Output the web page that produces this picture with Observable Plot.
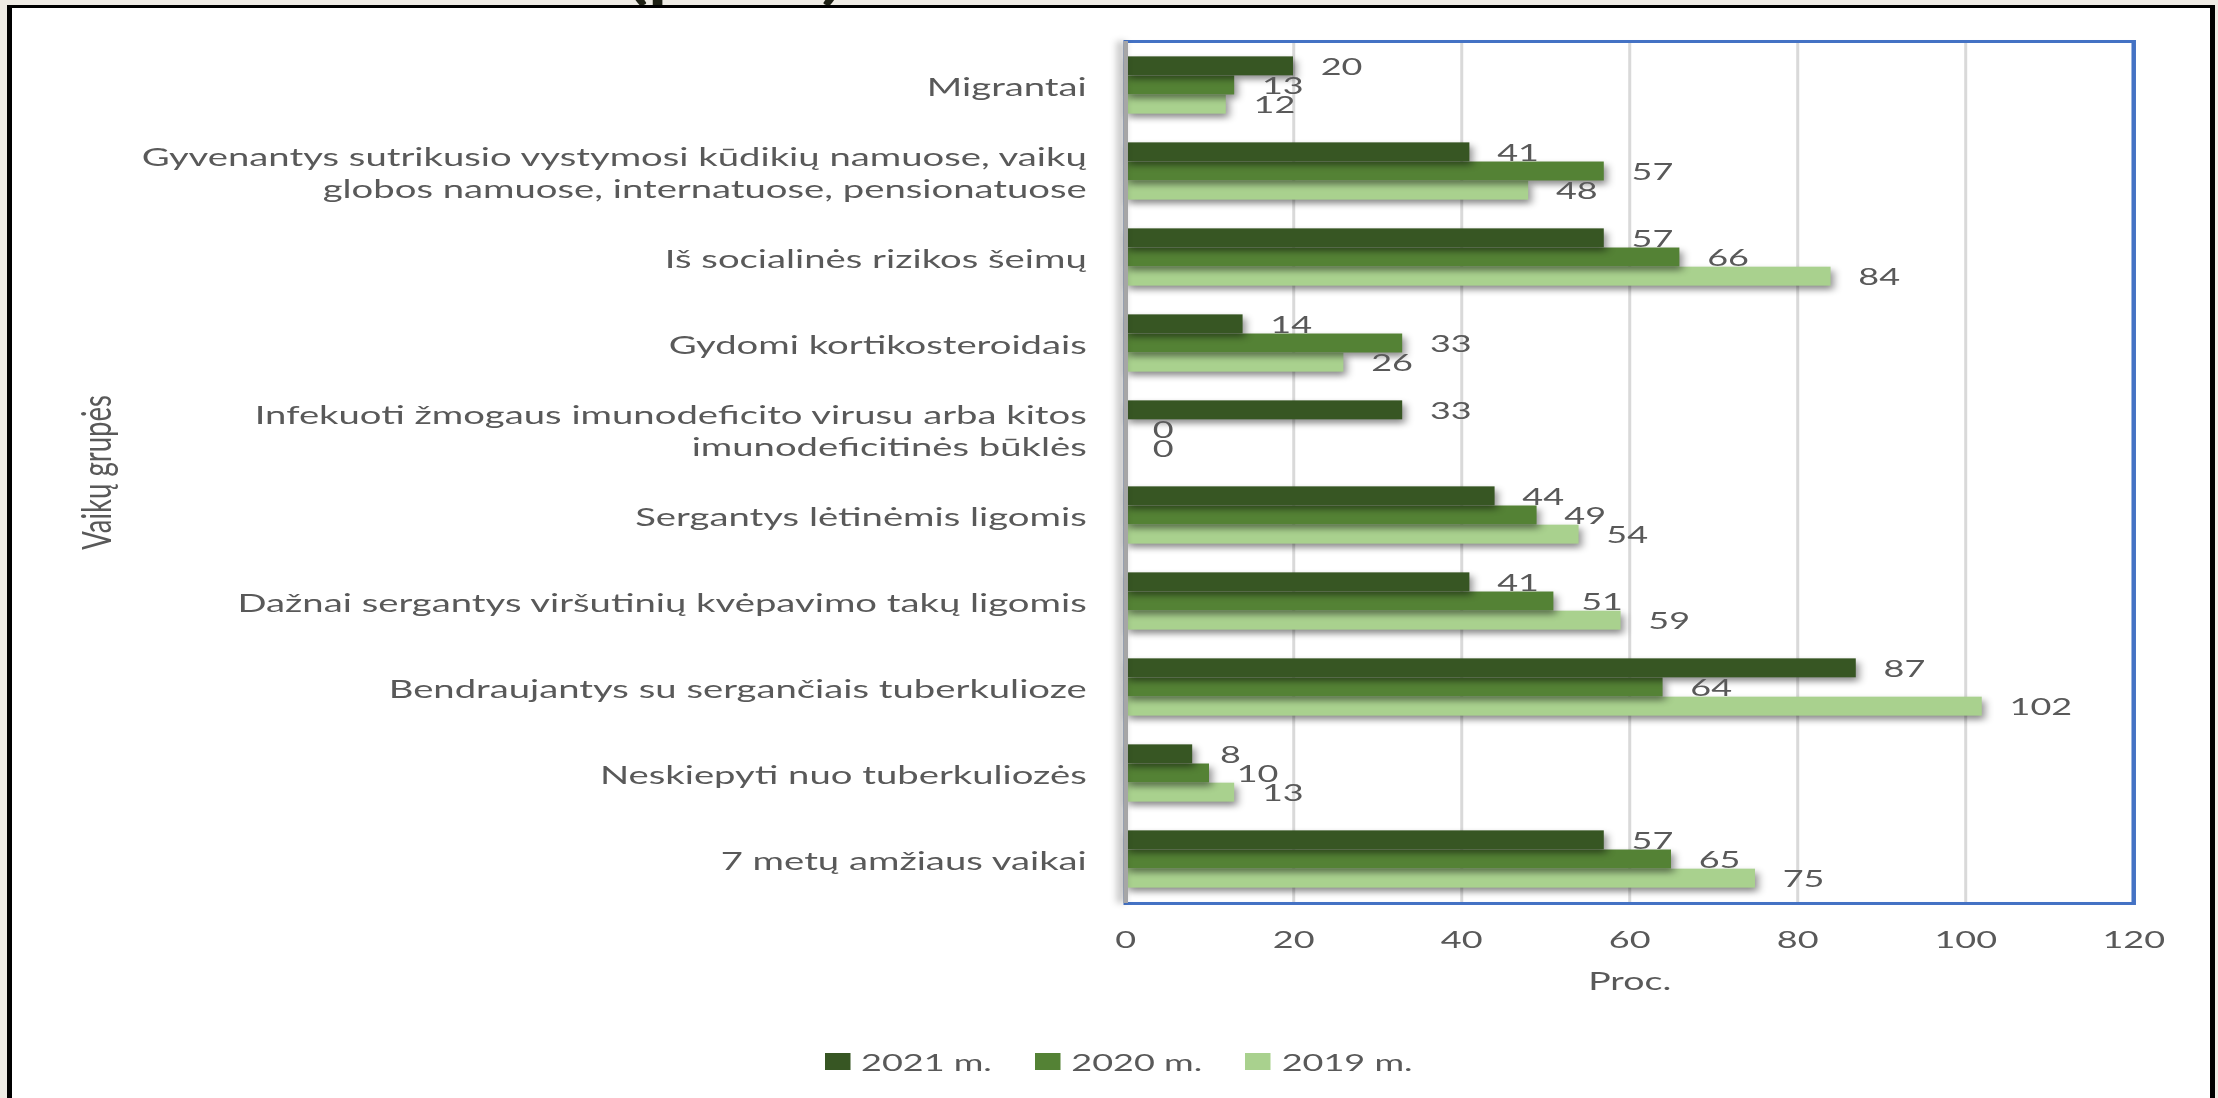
<!DOCTYPE html>
<html>
<head>
<meta charset="utf-8">
<script src="https://cdn.jsdelivr.net/npm/d3@7"></script>
<script src="https://cdn.jsdelivr.net/npm/@observablehq/plot@0.6"></script>
<style>
  html, body { margin: 0; padding: 0; width: 2218px; height: 1098px; overflow: hidden; background: #eeebe4; }
  #titlewrap { position: absolute; left: 0; top: 0; width: 1479px; height: 8px; overflow: hidden; transform: scaleX(1.5); transform-origin: 0 0; }
  #title { position: absolute; left: 418px; top: -48px; font: bold 52px/52px Lato, sans-serif; color: #1e2014; white-space: nowrap; }
  #sheet { position: absolute; left: 7px; top: 5px; width: 2208px; height: 1200px; background: #fff; box-sizing: border-box;
           border-left: 5px solid #000; border-top: 3px solid #000; border-right: 5px solid #000; }
  #chart { position: absolute; left: 0; top: 0; width: 1478.67px; transform: scaleX(1.5); transform-origin: 0 0; }
  #legend { display: flex; align-items: center; margin-top: 37px; margin-left: 550px; height: 30px;
            font-family: Lato, sans-serif; font-size: 24px; color: #595959; white-space: nowrap; }
  #legend .item { display: flex; align-items: center; margin-right: 29px; }
  #legend .sw { width: 17px; height: 17px; margin-right: 7px; }
</style>
</head>
<body>
<div id="titlewrap"><div id="title">(proc.)</div></div>
<div id="sheet"></div>
<div id="chart"></div>
<script>
// ---- data ----
const categories = [
  "Migrantai",
  "Gyvenantys sutrikusio vystymosi kūdikių namuose, vaikų\nglobos namuose, internatuose, pensionatuose",
  "Iš socialinės rizikos šeimų",
  "Gydomi kortikosteroidais",
  "Infekuoti žmogaus imunodeficito virusu arba kitos\nimunodeficitinės būklės",
  "Sergantys lėtinėmis ligomis",
  "Dažnai sergantys viršutinių kvėpavimo takų ligomis",
  "Bendraujantys su sergančiais tuberkulioze",
  "Neskiepyti nuo tuberkuliozės",
  "7 metų amžiaus vaikai"
];
const seriesNames = ["2021 m.", "2020 m.", "2019 m."];
const values2021 = [20, 41, 57, 14, 33, 44, 41, 87, 8, 57];
const values2020 = [13, 57, 66, 33, 0, 49, 51, 64, 10, 65];
const values2019 = [12, 48, 84, 26, 0, 54, 59, 102, 13, 75];
const seriesColors = ["#375623", "#548235", "#a9d18e"];
const xTicks = [0, 20, 40, 60, 80, 100, 120];
const yTitle = "Vaikų grupės";
const xTitle = "Proc.";

// ---- layout ----
const S = 1.5;                       // horizontal stretch of the reference
const W = 2218 / S;
const H = 1010;
const mTop = 41, mBottom = H - 903;
const mLeft = 1125 / S, mRight = (2218 - 2133) / S;
const band = (H - mTop - mBottom) / categories.length;
const group = band / 1.5;
const barH = group / 3;
const gapTop = (band - group) / 2;

const allSeries = [values2021, values2020, values2019];
const rows = allSeries.map((vals, j) =>
  categories.map((c, i) => ({category: c, series: seriesNames[j], value: vals[i]})));

const textColor = "#595959";
const barMarks = [];
const labelMarks = [];
rows.forEach((data, j) => {
  barMarks.push(Plot.barX(data, {
    y: "category", x: "value", fill: seriesColors[j],
    insetTop: gapTop + j * barH,
    insetBottom: band - gapTop - (j + 1) * barH
  }));
  labelMarks.push(Plot.text(data, {
    y: "category", x: "value", text: d => String(d.value),
    dx: 27 / S, dy: (j - 1) * barH + 1, textAnchor: "start",
    fill: textColor, fontSize: 24
  }));
});

const chart = Plot.plot({
  width: W, height: H,
  marginLeft: mLeft, marginRight: mRight, marginTop: mTop, marginBottom: mBottom,
  x: {domain: [0, 120], ticks: xTicks, tickSize: 0, tickPadding: 27, label: null},
  y: {domain: categories, axis: null, padding: 0},
  style: {fontFamily: "Lato, sans-serif", fontSize: "24px", color: textColor, background: "transparent", overflow: "visible"},
  marks: [
    Plot.ruleX(xTicks.filter(t => t > 0 && t < 120), {stroke: "#d9d9d9", strokeWidth: 2}),
    Plot.frame({stroke: "#4472c4", strokeWidth: 3}),
    ...barMarks.slice().reverse(),
    Plot.ruleX([0], {stroke: "#a6a6a6", strokeWidth: 3}),
    ...labelMarks,
    Plot.text(categories, {
      y: d => d, text: d => d, frameAnchor: "left", textAnchor: "end", dx: -26,
      lineHeight: 1.25, fill: textColor, fontSize: 25.5
    }),
    Plot.text([yTitle], {frameAnchor: "left", textAnchor: "middle", rotate: -90, dx: (97 - 1125) / S, fill: textColor, fontSize: 27.5}),
    Plot.text([xTitle], {frameAnchor: "bottom", textAnchor: "middle", lineAnchor: "top", dy: 69, fill: textColor, fontSize: 25})
  ]
});

const svg = d3.select(chart);
svg.selectAll('g[aria-label="bar"]').style("filter", "drop-shadow(2px 4px 3px rgba(0,0,0,0.45))");
const rules = svg.selectAll('g[aria-label="rule"]').nodes();
if (rules.length) d3.select(rules[rules.length - 1]).style("filter", "drop-shadow(-3px 0px 3px rgba(0,0,0,0.45))");

const host = document.getElementById("chart");
host.appendChild(chart);

const legend = document.createElement("div");
legend.id = "legend";
seriesNames.forEach((name, j) => {
  const item = document.createElement("div");
  item.className = "item";
  const sw = document.createElement("span");
  sw.className = "sw";
  sw.style.background = seriesColors[j];
  const lab = document.createElement("span");
  lab.textContent = name;
  item.appendChild(sw);
  item.appendChild(lab);
  legend.appendChild(item);
});
host.appendChild(legend);
</script>
</body>
</html>
